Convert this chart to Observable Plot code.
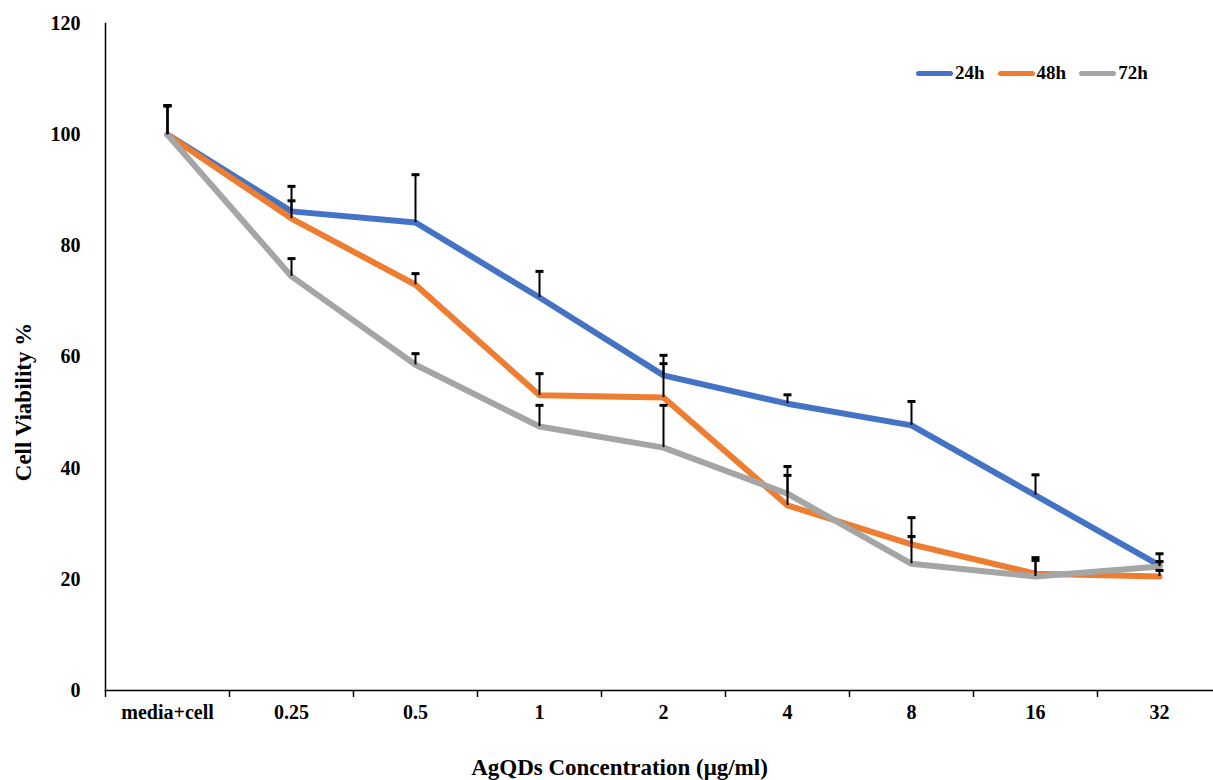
<!DOCTYPE html>
<html>
<head>
<meta charset="utf-8">
<script src="https://cdn.jsdelivr.net/npm/d3@7"></script>
<script src="https://cdn.jsdelivr.net/npm/@observablehq/plot@0.6"></script>
<style>
  html, body { margin: 0; padding: 0; background: #fff; }
  #wrap { position: relative; width: 1213px; height: 780px; font-family: "Liberation Serif", "Times New Roman", serif; }
  #legend { position: absolute; top: 62px; left: 916px; display: flex; align-items: center; font-weight: bold; font-size: 19px; color: #000; }
  #legend .item { display: flex; align-items: center; margin-right: 13px; }
  #legend .sw { width: 37px; height: 5px; border-radius: 3px; margin-right: 2px; }
</style>
</head>
<body>
<div id="wrap"><div id="chart"></div><div id="legend"></div></div>
<script>
const categories = ["media+cell", "0.25", "0.5", "1", "2", "4", "8", "16", "32"];
const seriesNames = ["24h", "48h", "72h"];
const seriesColors = ["#4472C4", "#ED7D31", "#A5A5A5"];
const yTicks = [0, 20, 40, 60, 80, 100, 120];

const values24 = [100, 86.2, 84.2, 70.7, 56.7, 51.6, 47.7, 35.1, 22.5];
const values48 = [100, 84.9, 73.0, 53.1, 52.7, 33.3, 26.3, 21.0, 20.5];
const values72 = [100, 74.5, 58.6, 47.5, 43.7, 35.4, 22.8, 20.5, 22.3];

const err24 = [5.2, 4.5, 8.6, 4.7, 3.6, 1.6, 4.3, 3.7, 2.1];
const err48 = [5.2, 3.2, 2.0, 3.9, 6.1, 5.4, 4.8, 2.4, 1.1];
const err72 = [5.2, 3.2, 2.0, 3.8, 7.6, 4.9, 4.9, 3.4, 0.9];

const xTitle = "AgQDs Concentration (μg/ml)";
const yTitle = "Cell Viability %";

const seriesValues = [values24, values48, values72];
const seriesErr = [err24, err48, err72];
const rows = [];
seriesNames.forEach((s, si) => {
  categories.forEach((c, ci) => {
    rows.push({series: s, conc: c, value: seriesValues[si][ci], top: seriesValues[si][ci] + seriesErr[si][ci]});
  });
});

const W = 1213, H = 780, ML = 105, MR = -8, MT = 23, MB = 90;
const step = (W - ML - MR) / categories.length;

const capSymbol = {
  draw(context, size) {
    const w = Math.sqrt(size / Math.PI);
    context.moveTo(-w, 0);
    context.lineTo(w, 0);
  }
};

const chart = Plot.plot({
  width: W,
  height: H,
  marginLeft: ML,
  marginRight: MR,
  marginTop: MT,
  marginBottom: MB,
  style: {fontFamily: "'Liberation Serif', 'Times New Roman', serif", fontWeight: "bold", fontSize: "20px", color: "#000", background: "#fff"},
  x: {type: "band", domain: categories, padding: 0, axis: null},
  y: {domain: [0, 120], axis: null},
  color: {domain: seriesNames, range: seriesColors},
  marks: [
    Plot.axisY({ticks: yTicks, tickSize: 0, tickPadding: 25, label: null, fontSize: 20}),
    Plot.axisX({tickSize: 0, tickPadding: 14, label: null, fontSize: 20}),
    Plot.axisX({tickSize: 7, tickFormat: () => "", dx: -step / 2, label: null, strokeWidth: 1.5}),
    Plot.frame({anchor: "left", stroke: "#000", strokeWidth: 1.5}),
    Plot.frame({anchor: "bottom", stroke: "#000", strokeWidth: 1.5}),
    Plot.line(rows, {x: "conc", y: "value", z: "series", stroke: "series", strokeWidth: 6, strokeLinejoin: "round", strokeLinecap: "round"}),
    Plot.ruleX(rows, {x: "conc", y1: "value", y2: "top", stroke: "#000", strokeWidth: 2}),
    Plot.dot(rows, {x: "conc", y: "top", symbol: capSymbol, r: 4, stroke: "#000", strokeWidth: 3}),
    Plot.text([yTitle], {text: d => d, frameAnchor: "left", textAnchor: "middle", rotate: -90, dx: -82, dy: 45, fontSize: 23, fontWeight: "bold"}),
    Plot.text([xTitle], {text: d => d, frameAnchor: "bottom", textAnchor: "middle", dx: -44, dy: 84, fontSize: 23, fontWeight: "bold"})
  ]
});
document.getElementById("chart").appendChild(chart);

const legend = document.getElementById("legend");
seriesNames.forEach((s, i) => {
  const item = document.createElement("div");
  item.className = "item";
  const sw = document.createElement("div");
  sw.className = "sw";
  sw.style.background = seriesColors[i];
  const t = document.createElement("span");
  t.textContent = s;
  item.appendChild(sw);
  item.appendChild(t);
  legend.appendChild(item);
});
</script>
</body>
</html>
